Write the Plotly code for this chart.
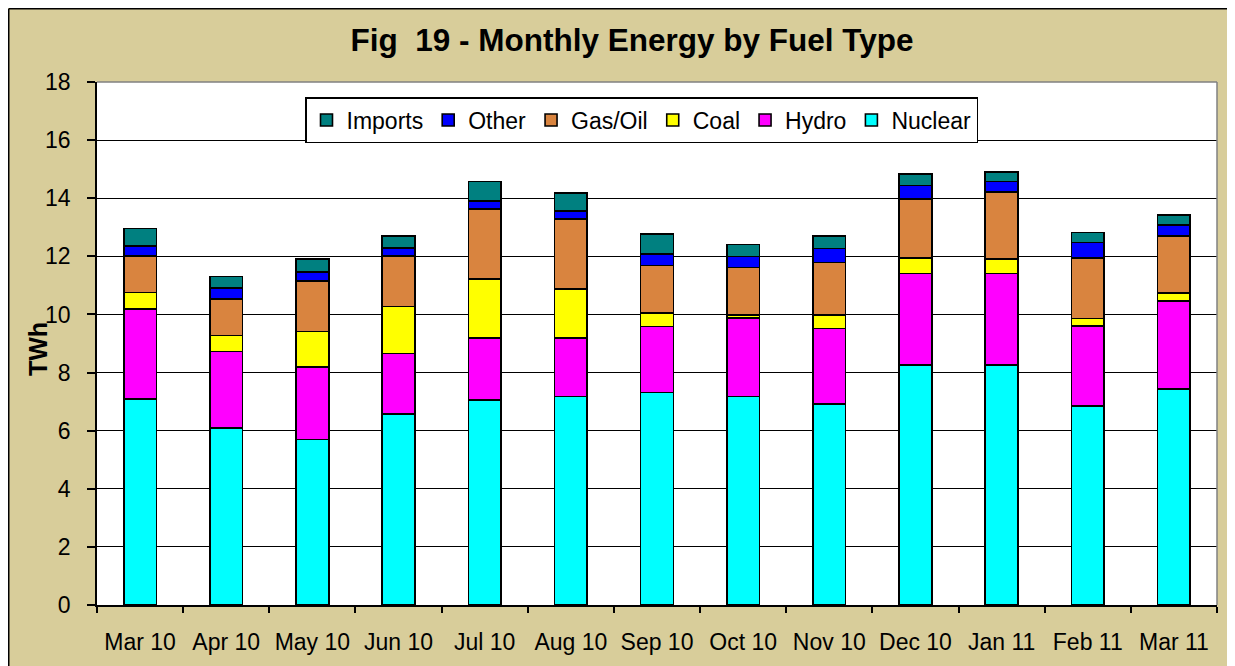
import plotly.graph_objects as go

months = ["Mar 10", "Apr 10", "May 10", "Jun 10", "Jul 10", "Aug 10", "Sep 10",
          "Oct 10", "Nov 10", "Dec 10", "Jan 11", "Feb 11", "Mar 11"]
nuclear = [7.10, 6.10, 5.70, 6.57, 7.05, 7.18, 7.32, 7.18, 6.91, 8.26, 8.26, 6.85, 7.43]
hydro = [3.09, 2.62, 2.49, 2.09, 2.13, 2.00, 2.26, 2.69, 2.61, 3.15, 3.15, 2.75, 3.03]
coal = [0.56, 0.55, 1.22, 1.61, 2.03, 1.69, 0.48, 0.11, 0.46, 0.54, 0.49, 0.26, 0.27]
gas_oil = [1.27, 1.26, 1.74, 1.75, 2.41, 2.41, 1.62, 1.63, 1.81, 2.02, 2.31, 2.09, 1.97]
other = [0.33, 0.37, 0.32, 0.26, 0.28, 0.28, 0.40, 0.39, 0.48, 0.47, 0.36, 0.53, 0.38]
imports = [0.61, 0.40, 0.43, 0.42, 0.68, 0.62, 0.68, 0.41, 0.42, 0.40, 0.34, 0.34, 0.34]
y_ticks = [0, 2, 4, 6, 8, 10, 12, 14, 16, 18]

series = [
    ("Nuclear", nuclear, "#00FFFF"),
    ("Hydro", hydro, "#FF00FF"),
    ("Coal", coal, "#FFFF00"),
    ("Gas/Oil", gas_oil, "#D9843F"),
    ("Other", other, "#0000FF"),
    ("Imports", imports, "#008080"),
]

# page offset (browser body margin)
OFF = 8
W, H = 1235 - OFF, 666 - OFF
ML, MR, MT, MB = 97 - OFF, 18, 82 - OFF, 61
PW, PH = W - ML - MR, H - MT - MB


def px_x(p):
    """page pixel x -> paper coordinate"""
    return (p - OFF - ML) / PW


def px_y(p):
    """page pixel y -> paper coordinate"""
    return (H - MB - (p - OFF)) / PH


FONT = "Liberation Sans, Arial, sans-serif"
TAN = "#D8CD9A"

fig = go.Figure()
for name, vals, color in series:
    fig.add_trace(go.Bar(
        x=months, y=vals, name=name,
        marker=dict(color=color, line=dict(color="black", width=1.6)),
    ))

fig.update_layout(
    width=W, height=H, autosize=False,
    barmode="stack", bargap=0.62,
    paper_bgcolor=TAN, plot_bgcolor="white",
    margin=dict(l=ML, r=MR, t=MT, b=MB, pad=0),
    font=dict(family=FONT, color="black"),
    title=dict(
        text="<b>Fig\u00a0\u00a019 - Monthly Energy by Fuel Type</b>",
        font=dict(size=31.5, family=FONT, color="black"),
        xref="paper", x=px_x(632), xanchor="center",
        yref="container", y=1 - (40 - OFF) / H, yanchor="middle",
    ),
    legend=dict(
        orientation="h", traceorder="reversed",
        x=px_x(305), y=px_y(97), xanchor="left", yanchor="top",
        bgcolor="white", bordercolor="black", borderwidth=1.5,
        font=dict(size=23, family=FONT, color="black"),
        itemwidth=30,
    ),
    xaxis=dict(
        showline=True, linecolor="black", linewidth=1.5,
        ticks="outside", tickson="boundaries", ticklen=6, tickcolor="black", tickwidth=1.5,
        tickfont=dict(size=23, family=FONT, color="black"),
        ticklabelstandoff=16,
        showgrid=False,
    ),
    yaxis=dict(
        range=[0, 18], tickvals=y_ticks,
        showline=True, linecolor="black", linewidth=1.5,
        ticks="outside", ticklen=8, tickcolor="black", tickwidth=1.5,
        tickfont=dict(size=23, family=FONT, color="black"),
        ticklabelstandoff=12,
        showgrid=True, gridcolor="black", gridwidth=1,
        zeroline=False,
    ),
    annotations=[dict(
        text="<b>TWh</b>", textangle=-90, showarrow=False,
        xref="paper", yref="paper", x=px_x(38), y=px_y(349),
        xanchor="center", yanchor="middle",
        font=dict(size=25, family=FONT, color="black"),
    )],
)

# plot-area top/right grey border
fig.add_shape(type="line", xref="paper", yref="paper", x0=0, x1=1, y0=1, y1=1,
              line=dict(color="#808080", width=1.5))
fig.add_shape(type="line", xref="paper", yref="paper", x0=1, x1=1, y0=0, y1=1,
              line=dict(color="#808080", width=1.5))
# black chart frame (top and left edges)
fig.add_shape(type="line", xref="paper", yref="paper", x0=px_x(8.75), x1=px_x(1240),
              y0=px_y(8.75), y1=px_y(8.75), line=dict(color="black", width=1.5))
fig.add_shape(type="line", xref="paper", yref="paper", x0=px_x(8.75), x1=px_x(8.75),
              y0=px_y(8.75), y1=px_y(680), line=dict(color="black", width=1.5))

fig.write_html("out.html")
